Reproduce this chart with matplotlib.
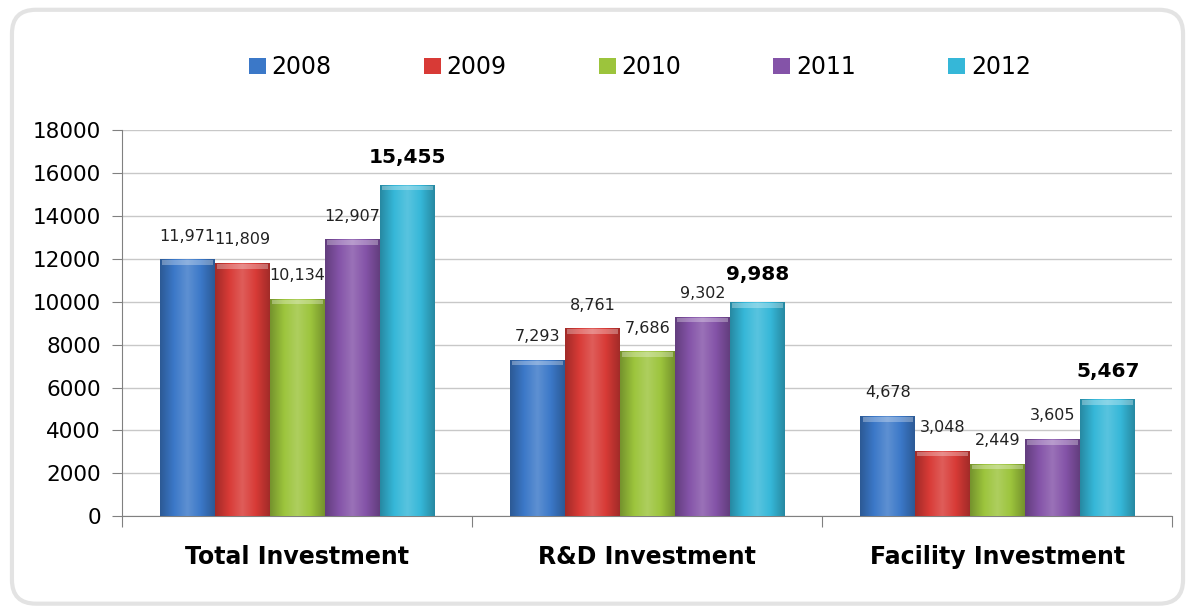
import numpy as np
import matplotlib.pyplot as plt
from matplotlib.colors import LinearSegmentedColormap, to_rgb
from matplotlib.patches import FancyBboxPatch, Rectangle

categories = ['Total Investment', 'R&D Investment', 'Facility Investment']
years = ['2008', '2009', '2010', '2011', '2012']
values = {
    '2008': [11971, 7293, 4678],
    '2009': [11809, 8761, 3048],
    '2010': [10134, 7686, 2449],
    '2011': [12907, 9302, 3605],
    '2012': [15455, 9988, 5467],
}
colors = ['#3b78c8', '#d83a36', '#9cc43c', '#8453a8', '#35b7d8']

plt.rcParams['font.family'] = ['DejaVu Sans']

fig = plt.figure(figsize=(11.95, 6.11), dpi=100)
fig.patch.set_facecolor('white')
fig.patches.append(FancyBboxPatch((0.01, 0.012), 0.98, 0.972, boxstyle='round,pad=0,rounding_size=0.02',
                                  transform=fig.transFigure, facecolor='white', edgecolor='#e3e3e3',
                                  linewidth=3, mutation_aspect=1195 / 611, zorder=-1))

ax = fig.add_axes([0.102, 0.155, 0.879, 0.632])
ax.patch.set_alpha(0)
ax.set_xlim(0, 3)
ax.set_ylim(0, 18000)
ax.set_yticks(np.arange(0, 18001, 2000))
ax.yaxis.grid(True, color='#c8c8c8', linewidth=1)
ax.set_axisbelow(True)
for s in ['top', 'right']:
    ax.spines[s].set_visible(False)
ax.spines['left'].set_color('#808080')
ax.spines['bottom'].set_color('#808080')
ax.tick_params(axis='y', labelsize=15.5, length=7, color='#808080', pad=8)
ax.set_xticks([0, 1, 2, 3], minor=False)
ax.set_xticklabels([])
ax.tick_params(axis='x', length=8, color='#808080', direction='out')
for i, c in enumerate(categories):
    ax.text(i + 0.5, -1900, c, ha='center', va='center', fontsize=17, fontweight='bold')

width = 0.157
start = 0.109
x = np.arange(len(categories))
handles = []
for j, (yr, col) in enumerate(zip(years, colors)):
    pos = x + start + width * j + width / 2
    bars = ax.bar(pos, values[yr], width=width, color=col, edgecolor='none', label=yr, zorder=2)
    handles.append(bars)
    base = np.array(to_rgb(col))
    dark = base * 0.75
    light = np.clip(base + (1 - base) * 0.18, 0, 1)
    cmap = LinearSegmentedColormap.from_list('g' + yr, [dark, base, light, base, dark])
    grad = np.linspace(0, 1, 64).reshape(1, -1)
    for b, v in zip(bars, values[yr]):
        x0 = b.get_x()
        im = ax.imshow(grad, cmap=cmap, extent=(x0, x0 + width, 0, v), aspect='auto', zorder=3)
        im.set_clip_path(b)
        ax.add_patch(Rectangle((x0 + width * 0.04, v - 260), width * 0.92, 220, facecolor='white',
                               alpha=0.3, edgecolor='none', zorder=4))
        if yr == '2012':
            ax.text(b.get_x() + width / 2, v + 850, f'{v:,}', ha='center', va='bottom',
                    fontsize=14.5, fontweight='bold', zorder=5)
        else:
            ax.text(b.get_x() + width / 2, v + 730, f'{v:,}', ha='center', va='bottom',
                    fontsize=11.5, color='#222222', zorder=5)
ax.set_ylim(0, 18000)
ax.set_xlim(0, 3)

leg = ax.legend(handles=handles, labels=years, loc='center', bbox_to_anchor=(0.493, 1.163), ncol=5,
                frameon=False, fontsize=17, handlelength=0.72, handleheight=0.72, columnspacing=3.9,
                handletextpad=0.25)

fig.savefig('out.png', dpi=100)
